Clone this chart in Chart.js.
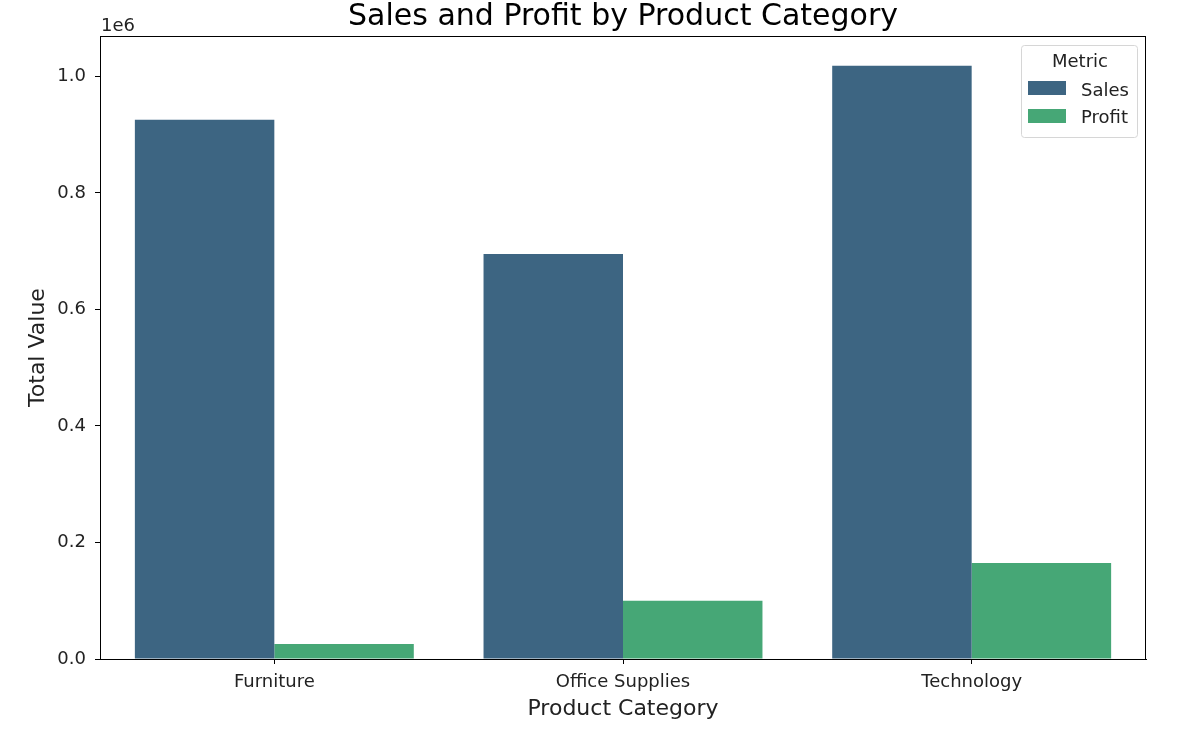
<!DOCTYPE html>
<html>
<head>
<meta charset="utf-8">
<script src="https://cdn.jsdelivr.net/npm/chart.js@4.4.1/dist/chart.umd.min.js"></script>
<style>
html,body{margin:0;padding:0;background:#fff;}
#wrap{width:1183px;height:736px;}
</style>
</head>
<body>
<div id="wrap"><canvas id="c" width="1183" height="736"></canvas></div>
<script>
const categories = ["Furniture", "Office Supplies", "Technology"];
const salesValues = [925800, 695000, 1018500];
const profitValues = [25700, 100000, 164600];
const yTickValues = [0, 200000, 400000, 600000, 800000, 1000000];
const seriesNames = ["Sales", "Profit"];
const legendTitle = "Metric";
const chartTitle = "Sales and Profit by Product Category";
const xTitle = "Product Category";
const yTitle = "Total Value";

const FONT = "'DejaVu Sans', sans-serif";
const yMax = Math.max(...salesValues, ...profitValues) * 1.05;

const decorPlugin = {
  id: 'decor',
  afterDraw(chart) {
    const ctx = chart.ctx;
    const a = chart.chartArea;
    ctx.save();
    // box
    ctx.strokeStyle = '#000';
    ctx.lineWidth = 1;
    ctx.strokeRect(Math.round(a.left) + 0.5, Math.round(a.top) + 0.5, Math.round(a.right - a.left) - 1, Math.round(a.bottom - a.top));
    // title
    ctx.fillStyle = '#000';
    ctx.font = "30px " + FONT;
    ctx.textAlign = 'center';
    ctx.textBaseline = 'alphabetic';
    ctx.fillText(chartTitle, (a.left + a.right) / 2, 25);
    // offset text
    ctx.fillStyle = '#222';
    ctx.font = "18px " + FONT;
    ctx.textAlign = 'left';
    ctx.fillText("1e6", a.left + 1, 31);
    // legend
    const bx = 1021, by = 45, bw = 116, bh = 92;
    ctx.fillStyle = 'rgba(255,255,255,0.8)';
    ctx.strokeStyle = '#d6d6d6';
    ctx.beginPath();
    if (ctx.roundRect) ctx.roundRect(bx + 0.5, by + 0.5, bw, bh, 3); else ctx.rect(bx + 0.5, by + 0.5, bw, bh);
    ctx.fill(); ctx.stroke();
    ctx.fillStyle = '#222';
    ctx.font = "18px " + FONT;
    ctx.textAlign = 'center';
    ctx.textBaseline = 'alphabetic';
    ctx.fillText(legendTitle, bx + bw / 2 + 1, 67);
    const swatchTop = [81, 109];
    const textBase = [95.5, 123.3];
    chart.data.datasets.forEach((ds, i) => {
      ctx.fillStyle = ds.backgroundColor;
      ctx.fillRect(1028, swatchTop[i], 38, 14);
      ctx.fillStyle = '#222';
      ctx.font = "18px " + FONT;
      ctx.textAlign = 'left';
      ctx.fillText(ds.label, 1081, textBase[i]);
    });
    ctx.restore();
  }
};

new Chart(document.getElementById('c'), {
  type: 'bar',
  data: {
    labels: categories,
    datasets: [
      { label: seriesNames[0], data: salesValues, backgroundColor: '#3d6582', borderWidth: 0 },
      { label: seriesNames[1], data: profitValues, backgroundColor: '#46a776', borderWidth: 0 }
    ]
  },
  options: {
    responsive: false,
    animation: false,
    events: [],
    layout: { padding: { top: 36, right: 37, bottom: 0, left: 0 } },
    datasets: { bar: { categoryPercentage: 0.8, barPercentage: 1.0 } },
    plugins: {
      legend: { display: false },
      title: { display: false },
      tooltip: { enabled: false }
    },
    scales: {
      x: {
        grid: { display: true, drawOnChartArea: false, tickLength: 5, color: '#000', tickColor: '#000', offset: false },
        border: { display: true, color: '#000', width: 1 },
        ticks: { color: '#222', font: { family: FONT, size: 18 }, padding: 8 },
        title: { display: true, text: xTitle, color: '#222', font: { family: FONT, size: 22 }, padding: { top: 0, bottom: 14 } },
        afterFit(scale) { scale.height = 77; }
      },
      y: {
        min: 0,
        max: yMax,
        afterBuildTicks(scale) { scale.ticks = yTickValues.map(v => ({ value: v })); },
        grid: { display: true, drawOnChartArea: false, tickLength: 5, color: '#000', tickColor: '#000' },
        border: { display: true, color: '#000', width: 1 },
        ticks: { color: '#222', font: { family: FONT, size: 18 }, padding: 9,
          callback: (v) => (v / 1e6).toFixed(1) },
        title: { display: true, text: yTitle, color: '#222', font: { family: FONT, size: 22 }, padding: { top: 25, bottom: 0 } },
        afterFit(scale) { scale.width = 100; }
      }
    }
  },
  plugins: [decorPlugin]
});
</script>
</body>
</html>
